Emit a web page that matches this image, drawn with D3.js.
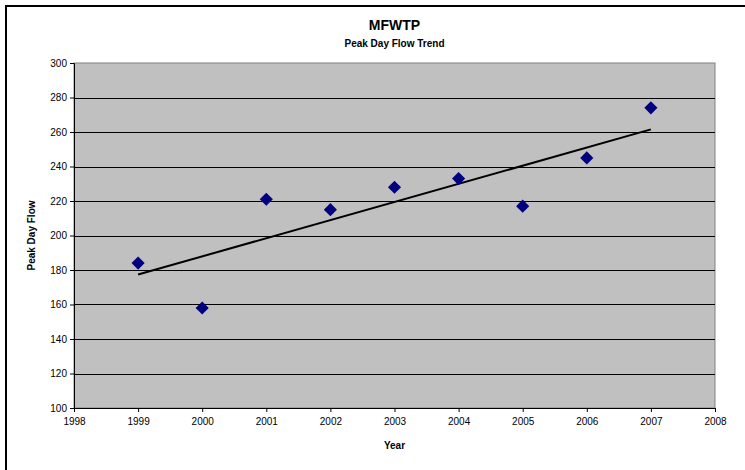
<!DOCTYPE html>
<html>
<head>
<meta charset="utf-8">
<script src="https://cdn.jsdelivr.net/npm/d3@7"></script>
<style>
  body { margin: 0; background: #fff; }
  text { font-family: "Liberation Sans", Arial, sans-serif; fill: #000; }
</style>
</head>
<body>
<div id="chart"></div>
<script>
// data
const years = [1999, 2000, 2001, 2002, 2003, 2004, 2005, 2006, 2007];
const peakFlow = [184, 158, 221, 215, 228, 233, 217, 245, 274];
const yTicks = [100, 120, 140, 160, 180, 200, 220, 240, 260, 280, 300];
const xTicks = [1998, 1999, 2000, 2001, 2002, 2003, 2004, 2005, 2006, 2007, 2008];

const width = 745, height = 470;
const plot = { left: 74, top: 63, right: 715, bottom: 408 };

const svg = d3.select('#chart').append('svg')
    .attr('width', width)
    .attr('height', height);

// outer chart border (runs off the right/bottom edge)
svg.append('rect')
    .attr('x', 6).attr('y', 6)
    .attr('width', 900).attr('height', 700)
    .attr('fill', '#fff')
    .attr('stroke', '#000')
    .attr('stroke-width', 2);

const x = d3.scaleLinear().domain([1998, 2008]).range([plot.left, plot.right]);
const y = d3.scaleLinear().domain([100, 300]).range([plot.bottom, plot.top]);

// plot background
svg.append('rect')
    .attr('x', plot.left).attr('y', plot.top)
    .attr('width', plot.right - plot.left)
    .attr('height', plot.bottom - plot.top)
    .attr('fill', '#c0c0c0')
    .attr('stroke', '#808080')
    .attr('stroke-width', 1);

// gridlines
svg.append('g')
    .selectAll('line')
    .data(yTicks.slice(1, -1))
    .join('line')
    .attr('x1', plot.left).attr('x2', plot.right)
    .attr('y1', d => Math.round(y(d)) + 0.5)
    .attr('y2', d => Math.round(y(d)) + 0.5)
    .attr('stroke', '#000')
    .attr('stroke-width', 1);

// y axis
const yAxis = svg.append('g')
    .attr('transform', `translate(${plot.left},0)`)
    .call(d3.axisLeft(y).tickValues(yTicks).tickSize(4).tickPadding(3));
yAxis.select('.domain').attr('stroke', '#000');
yAxis.selectAll('text').style('font-size', '10px').style('font-family', '"Liberation Sans", Arial, sans-serif');

// x axis
const xAxis = svg.append('g')
    .attr('transform', `translate(0,${plot.bottom})`)
    .call(d3.axisBottom(x).tickValues(xTicks).tickFormat(d3.format('d')).tickSize(4).tickPadding(6));
xAxis.select('.domain').attr('stroke', '#000');
xAxis.selectAll('text').style('font-size', '10px').style('font-family', '"Liberation Sans", Arial, sans-serif');

// linear trend line (least squares)
const xm = d3.mean(years), ym = d3.mean(peakFlow);
const slope = d3.sum(years, (d, i) => (d - xm) * (peakFlow[i] - ym)) / d3.sum(years, d => (d - xm) ** 2);
const icpt = ym - slope * xm;
const trendEnds = [years[0], years[years.length - 1]];

svg.append('path')
    .datum(trendEnds)
    .attr('d', d3.line().x(d => x(d)).y(d => y(icpt + slope * d)))
    .attr('stroke', '#000')
    .attr('stroke-width', 2)
    .attr('fill', 'none');

// diamond markers
svg.append('g')
    .selectAll('path')
    .data(years)
    .join('path')
    .attr('transform', (d, i) => `translate(${x(d)},${y(peakFlow[i])})`)
    .attr('d', d3.symbol().type(d3.symbolDiamond2).size(110))
    .attr('fill', '#000080');

// titles
const cx = (plot.left + plot.right) / 2;
svg.append('text')
    .attr('x', cx).attr('y', 30)
    .attr('text-anchor', 'middle')
    .style('font-size', '14px').style('font-weight', 'bold')
    .text('MFWTP');
svg.append('text')
    .attr('x', cx).attr('y', 47)
    .attr('text-anchor', 'middle')
    .style('font-size', '10px').style('font-weight', 'bold')
    .text('Peak Day Flow Trend');

svg.append('text')
    .attr('x', cx).attr('y', 449)
    .attr('text-anchor', 'middle')
    .style('font-size', '10px').style('font-weight', 'bold')
    .text('Year');

svg.append('text')
    .attr('transform', `translate(35,${(plot.top + plot.bottom) / 2}) rotate(-90)`)
    .attr('text-anchor', 'middle')
    .style('font-size', '10px').style('font-weight', 'bold')
    .text('Peak Day Flow');
</script>
</body>
</html>
